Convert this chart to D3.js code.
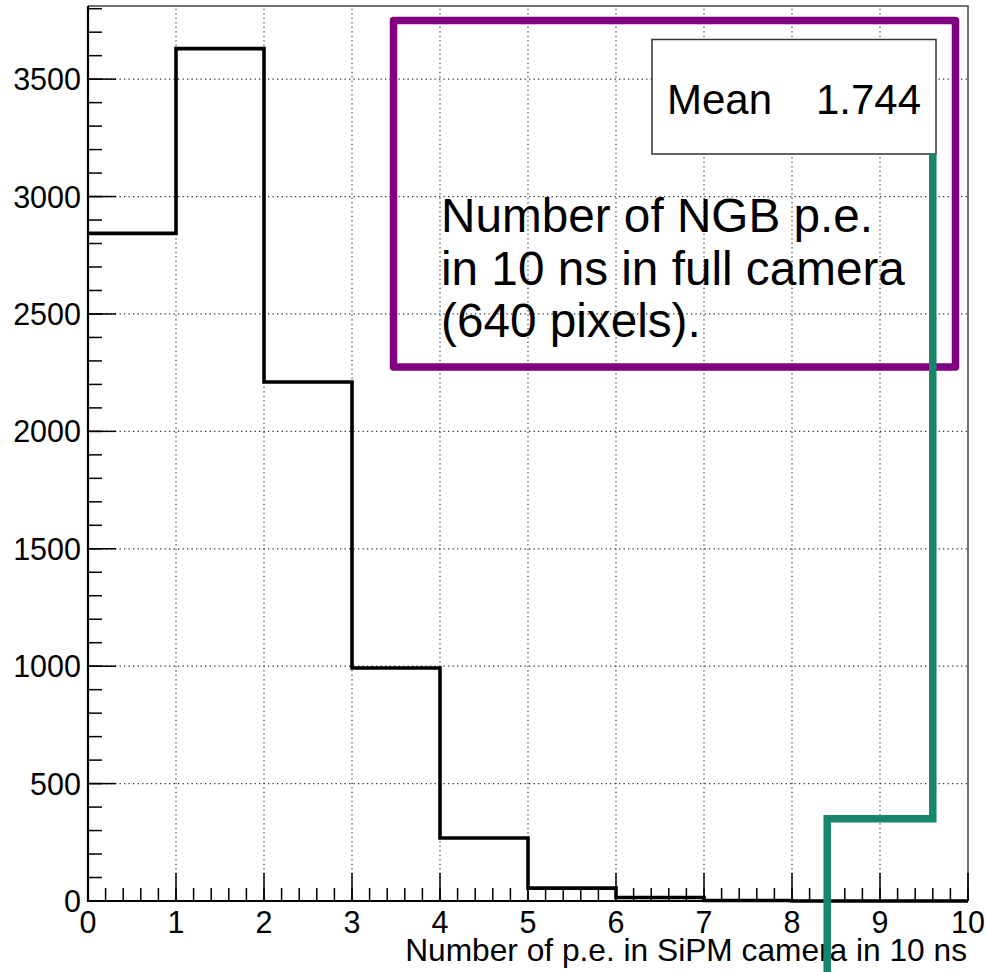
<!DOCTYPE html>
<html>
<head>
<meta charset="utf-8">
<script src="https://cdn.jsdelivr.net/npm/d3@7/dist/d3.min.js"></script>
<style>
  html, body { margin: 0; padding: 0; background: #fff; }
  svg { display: block; font-family: "Liberation Sans", Arial, Helvetica, sans-serif; }
</style>
</head>
<body>
<svg id="chart" width="986" height="972"></svg>
<script>
// Histogram: number of p.e. in SiPM camera in 10 ns
const binEdges = [0, 1, 2, 3, 4, 5, 6, 7, 8, 9, 10];
const binCounts = [2843, 3630, 2210, 992, 268, 55, 15, 2, 0, 0];
const yTicks = [0, 500, 1000, 1500, 2000, 2500, 3000, 3500];
const xTicks = [0, 1, 2, 3, 4, 5, 6, 7, 8, 9, 10];
const statLabel = "Mean";
const statValue = "1.744";
const noteLines = ["Number of NGB p.e.", "in 10 ns in full camera", "(640 pixels)."];
const xTitle = "Number of p.e. in SiPM camera in 10 ns";
// Threshold step drawn over the histogram: x from 8.4 to 9.6 at level 350
const cutX = [8.4, 9.6];
const cutLevel = 350;

const W = 986, H = 972;
const margin = { left: 88, right: 18, top: 6, bottom: 71 };
const x0 = margin.left, x1 = W - margin.right;
const y0 = H - margin.bottom, y1 = margin.top;

const yMax = d3.max(binCounts) * 1.05;
const x = d3.scaleLinear().domain([0, 10]).range([x0, x1]);
const y = d3.scaleLinear().domain([0, yMax]).range([y0, y1]);

const svg = d3.select("#chart");

// Dotted grid at major ticks
const grid = svg.append("g").attr("stroke", "#333").attr("stroke-width", 1.2)
  .attr("stroke-dasharray", "1.3,3.2");
grid.selectAll("line.gx").data(xTicks.filter(d => d > 0 && d < 10)).join("line")
  .attr("x1", d => x(d)).attr("x2", d => x(d)).attr("y1", y0).attr("y2", y1);
grid.selectAll("line.gy").data(yTicks.filter(d => d > 0)).join("line")
  .attr("x1", x0).attr("x2", x1).attr("y1", d => y(d)).attr("y2", d => y(d));

// Frame (top and right edges)
svg.append("path")
  .attr("d", `M${x0},${y1}H${x1}V${y0}`)
  .attr("fill", "none").attr("stroke", "#444").attr("stroke-width", 1.5);

// Axes with inward ticks
const tickLen = 28, minorLen = 14;
const yMinor = d3.range(0, yMax, 100);
const xMinor = d3.range(0, 10.001, 0.2);

const axG = svg.append("g").attr("stroke", "#000").attr("stroke-width", 1.5);
axG.selectAll("line.ymin").data(yMinor).join("line")
  .attr("x1", x0).attr("x2", x0 + minorLen).attr("y1", d => y(d)).attr("y2", d => y(d));
axG.selectAll("line.ymaj").data(yTicks).join("line")
  .attr("x1", x0).attr("x2", x0 + tickLen).attr("y1", d => y(d)).attr("y2", d => y(d));
axG.selectAll("line.xmin").data(xMinor).join("line")
  .attr("y1", y0).attr("y2", y0 - 13).attr("x1", d => x(d)).attr("x2", d => x(d));
axG.selectAll("line.xmaj").data(xTicks).join("line")
  .attr("y1", y0).attr("y2", y0 - tickLen).attr("x1", d => x(d)).attr("x2", d => x(d));
svg.append("path").attr("d", `M${x0},${y1}V${y0}H${x1}`)
  .attr("fill", "none").attr("stroke", "#000").attr("stroke-width", 2.2);

// Tick labels
svg.append("g").selectAll("text").data(yTicks).join("text")
  .attr("x", x0 - 7).attr("y", d => y(d)).attr("dy", "0.36em")
  .attr("text-anchor", "end").attr("font-size", 30.5).text(d => d);
svg.append("g").selectAll("text").data(xTicks).join("text")
  .attr("x", d => x(d)).attr("y", 933)
  .attr("text-anchor", "middle").attr("font-size", 30.5).text(d => d);

// Axis title
svg.append("text").attr("x", x1 - 1).attr("y", 961).attr("text-anchor", "end")
  .attr("font-size", 31.7).text(xTitle);

// Histogram outline
let d = `M${x(binEdges[0])},${y(binCounts[0])}`;
binCounts.forEach((c, i) => {
  if (i > 0) d += `V${y(c)}`;
  d += `H${x(binEdges[i + 1])}`;
});
svg.append("path").attr("d", d).attr("fill", "none")
  .attr("stroke", "#000").attr("stroke-width", 3.6);

// Purple annotation box
svg.append("rect").attr("x", 393.5).attr("y", 20.5).attr("width", 562).attr("height", 346.5)
  .attr("fill", "none").attr("stroke", "#810081").attr("stroke-width", 7.5)
  .attr("stroke-linejoin", "round");

noteLines.forEach((t, i) => {
  svg.append("text").attr("x", 441).attr("y", 232 + i * 52.5)
    .attr("font-size", 47.7).attr("fill", "#000").text(t);
});

// Stats box
svg.append("rect").attr("x", 652).attr("y", 39.5).attr("width", 284).attr("height", 114.5)
  .attr("fill", "#fff").attr("stroke", "#333").attr("stroke-width", 1.5);
svg.append("text").attr("x", 667).attr("y", 114).attr("font-size", 42).text(statLabel);
svg.append("text").attr("x", 921).attr("y", 114).attr("text-anchor", "end")
  .attr("font-size", 42).text(statValue);

// Teal step line
svg.append("path")
  .attr("d", `M${x(cutX[1])},154V${y(cutLevel)}H${x(cutX[0])}V${H}`)
  .attr("fill", "none").attr("stroke", "#17866a").attr("stroke-width", 7.5)
  .attr("stroke-linejoin", "miter");
</script>
</body>
</html>
